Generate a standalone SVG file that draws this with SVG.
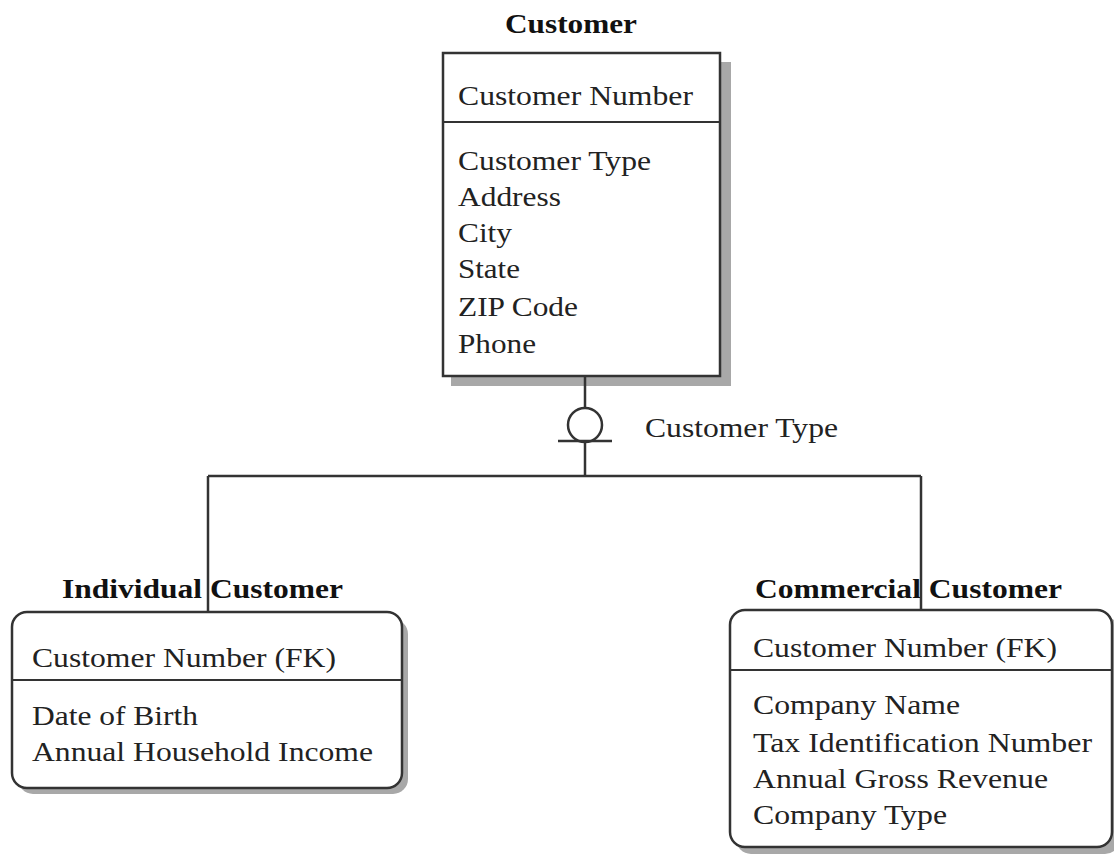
<svg xmlns="http://www.w3.org/2000/svg" width="1114" height="854" viewBox="0 0 1114 854">
<style>
.box{fill:#fff;stroke:#333;stroke-width:2.5}
.shadow{fill:#a8a8a8}
.div{stroke:#333;stroke-width:2}
.t{font-family:"Liberation Serif",serif;font-size:27px;fill:#222}
.b{font-family:"Liberation Serif",serif;font-size:27px;font-weight:bold;fill:#111}
.c{stroke:#333;stroke-width:2.5;fill:none}
</style>
<rect width="1114" height="854" fill="#fff"/>
<g id="customer">
<rect class="shadow" x="451" y="62" width="280" height="324"/>
<rect class="box" x="443" y="53" width="277" height="323"/>
<line class="div" x1="443" y1="122" x2="720" y2="122"/>
<text class="b" x="505" y="33" textLength="132" lengthAdjust="spacingAndGlyphs">Customer</text>
<text class="t" x="458" y="105" textLength="235" lengthAdjust="spacingAndGlyphs">Customer Number</text>
<text class="t" x="458" y="170" textLength="193" lengthAdjust="spacingAndGlyphs">Customer Type</text>
<text class="t" x="458" y="206" textLength="103" lengthAdjust="spacingAndGlyphs">Address</text>
<text class="t" x="458" y="242" textLength="54" lengthAdjust="spacingAndGlyphs">City</text>
<text class="t" x="458" y="278" textLength="62" lengthAdjust="spacingAndGlyphs">State</text>
<text class="t" x="458" y="316" textLength="120" lengthAdjust="spacingAndGlyphs">ZIP Code</text>
<text class="t" x="458" y="353" textLength="78" lengthAdjust="spacingAndGlyphs">Phone</text>
</g>
<g id="individual">
<rect class="shadow" x="18" y="619" width="390" height="175" rx="15"/>
<rect class="box" x="12" y="612" width="390" height="176" rx="15"/>
<line class="div" x1="12" y1="680" x2="402" y2="680"/>
<text class="b" x="62" y="598" textLength="281" lengthAdjust="spacingAndGlyphs">Individual Customer</text>
<text class="t" x="32" y="667" textLength="304" lengthAdjust="spacingAndGlyphs">Customer Number (FK)</text>
<text class="t" x="32" y="725" textLength="166" lengthAdjust="spacingAndGlyphs">Date of Birth</text>
<text class="t" x="32" y="761" textLength="341" lengthAdjust="spacingAndGlyphs">Annual Household Income</text>
</g>
<g id="commercial">
<rect class="shadow" x="736" y="617" width="384" height="237" rx="15"/>
<rect class="box" x="730" y="610" width="382" height="237" rx="15"/>
<line class="div" x1="730" y1="670" x2="1112" y2="670"/>
<text class="b" x="755" y="598" textLength="307" lengthAdjust="spacingAndGlyphs">Commercial Customer</text>
<text class="t" x="753" y="657" textLength="304" lengthAdjust="spacingAndGlyphs">Customer Number (FK)</text>
<text class="t" x="753" y="714" textLength="207" lengthAdjust="spacingAndGlyphs">Company Name</text>
<text class="t" x="753" y="752" textLength="339" lengthAdjust="spacingAndGlyphs">Tax Identification Number</text>
<text class="t" x="753" y="788" textLength="295" lengthAdjust="spacingAndGlyphs">Annual Gross Revenue</text>
<text class="t" x="753" y="824" textLength="194" lengthAdjust="spacingAndGlyphs">Company Type</text>
</g>
<g id="connectors">
<line class="c" x1="585" y1="377" x2="585" y2="408"/>
<circle class="c" cx="585" cy="425" r="17"/>
<line class="c" x1="558" y1="441" x2="612" y2="441"/>
<line class="c" x1="585" y1="441" x2="585" y2="476"/>
<line class="c" x1="208" y1="476" x2="921" y2="476"/>
<line class="c" x1="208" y1="476" x2="208" y2="612"/>
<line class="c" x1="921" y1="476" x2="921" y2="610"/>
<text class="t" x="645" y="437" textLength="193" lengthAdjust="spacingAndGlyphs">Customer Type</text>
</g>
</svg>
